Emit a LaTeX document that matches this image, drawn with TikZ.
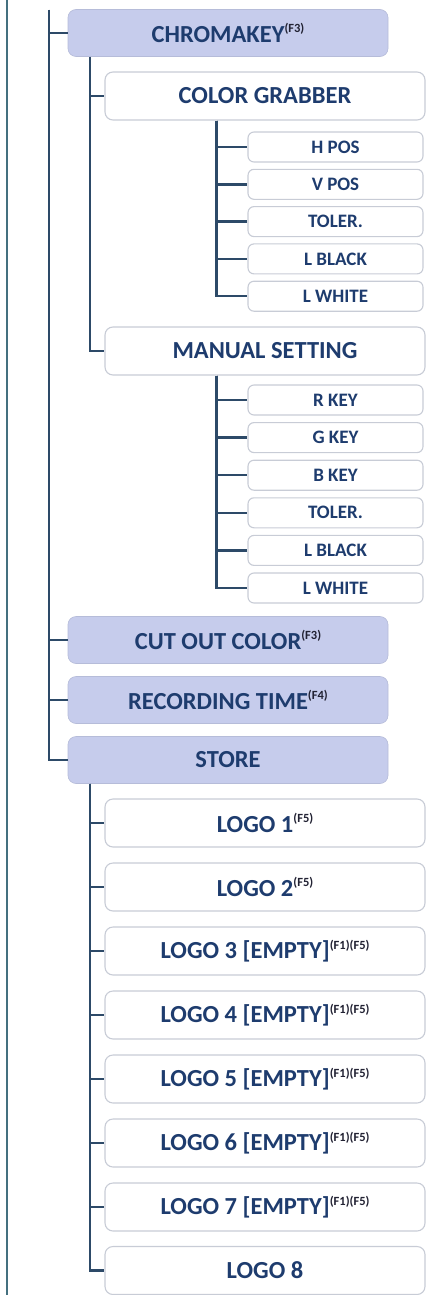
\documentclass[tikz,border=0pt]{standalone}
\usepackage{fontspec}
\setmainfont{Carlito}
\definecolor{menutext}{HTML}{1E3C6E}
\definecolor{menuline}{HTML}{2D4A68}
\definecolor{mainline}{HTML}{44707F}
\definecolor{menufill}{HTML}{C6CCEC}
\definecolor{boxedge}{HTML}{C8CCD6}
\definecolor{notetext}{HTML}{222233}
\newcommand{\fnote}[1]{\raisebox{0.8ex}{\fontsize{12.5}{13}\selectfont\color{notetext}#1}}

\begin{document}
\begin{tikzpicture}[x=1pt, y=1pt]
            \tikzset{topitem/.style={rounded corners=8pt, fill=menufill, draw=menufill!92!black, line width=0.6pt,
                minimum width=320pt, minimum height=47pt, inner sep=0pt, text=menutext,
                font=\bfseries\fontsize{24.5}{28}\selectfont}}
            \tikzset{subitem/.style={topitem, fill=white, draw=boxedge, line width=1.1pt, minimum height=48pt}}
            \tikzset{leafitem/.style={subitem, rounded corners=6pt, minimum width=175pt, minimum height=30pt,
                font=\bfseries\fontsize{19}{22}\selectfont}}
            \tikzset{link/.style={menuline, line width=2.4pt}}
            \tikzset{rail/.style={mainline, line width=2pt}}
            \useasboundingbox (0, 0) rectangle (429, -1295);
            % outer rail and level 1 trunk
            \coordinate (railtop) at (7, 0);
            \coordinate (railbot) at (7, -1295);
            \draw[rail] (railtop) -- (railbot);
            \coordinate (trunk) at (49, -10);
            % level 1
            \node[topitem] (chroma) at (228, -33) {CHROMAKEY\fnote{(F3)}};
            \node[topitem] (cutout) at (228, -640) {CUT OUT COLOR\fnote{(F3)}};
            \node[topitem] (rectime) at (228, -700) {RECORDING TIME\fnote{(F4)}};
            \node[topitem] (store) at (228, -760) {STORE};
            % chromakey
            \node[subitem] (grab) at (265, -96) {COLOR GRABBER};
            \node[subitem] (manual) at (265, -351) {MANUAL SETTING};
            \node[leafitem] (hpos) at (335.5, -147) {H POS};
            \node[leafitem] (vpos) at (335.5, -184.3) {V POS};
            \node[leafitem] (tolga) at (335.5, -221.6) {TOLER.};
            \node[leafitem] (blkga) at (335.5, -258.9) {L BLACK};
            \node[leafitem] (whtga) at (335.5, -296.2) {L WHITE};
            \node[leafitem] (rkey) at (335.5, -400) {R KEY};
            \node[leafitem] (gkey) at (335.5, -437.6) {G KEY};
            \node[leafitem] (bkey) at (335.5, -475.2) {B KEY};
            \node[leafitem] (tolms) at (335.5, -512.8) {TOLER.};
            \node[leafitem] (blkms) at (335.5, -550.4) {L BLACK};
            \node[leafitem] (whtms) at (335.5, -588) {L WHITE};
            % store
            \node[subitem] (logoa) at (265, -823) {LOGO 1\fnote{(F5)}};
            \node[subitem] (logob) at (265, -887) {LOGO 2\fnote{(F5)}};
            \node[subitem] (logoc) at (265, -951) {LOGO 3 [EMPTY]\fnote{(F1)(F5)}};
            \node[subitem] (logod) at (265, -1015) {LOGO 4 [EMPTY]\fnote{(F1)(F5)}};
            \node[subitem] (logoe) at (265, -1079) {LOGO 5 [EMPTY]\fnote{(F1)(F5)}};
            \node[subitem] (logof) at (265, -1143) {LOGO 6 [EMPTY]\fnote{(F1)(F5)}};
            \node[subitem] (logog) at (265, -1207) {LOGO 7 [EMPTY]\fnote{(F1)(F5)}};
            \node[subitem] (logoh) at (265, -1270.5) {LOGO 8};
            % connectors
            \foreach \n in {chroma, cutout, rectime, store}
                \draw[link] (trunk) |- (\n.west);
            \foreach \n in {grab, manual}
                \draw[link] ([xshift=22pt]chroma.south west) |- (\n.west);
            \foreach \n in {hpos, vpos, tolga, blkga, whtga}
                \draw[link] ([xshift=112pt]grab.south west) |- (\n.west);
            \foreach \n in {rkey, gkey, bkey, tolms, blkms, whtms}
                \draw[link] ([xshift=112pt]manual.south west) |- (\n.west);
            \foreach \n in {logoa, logob, logoc, logod, logoe, logof, logog, logoh}
                \draw[link] ([xshift=22pt]store.south west) |- (\n.west);
        \end{tikzpicture}
\end{document}
